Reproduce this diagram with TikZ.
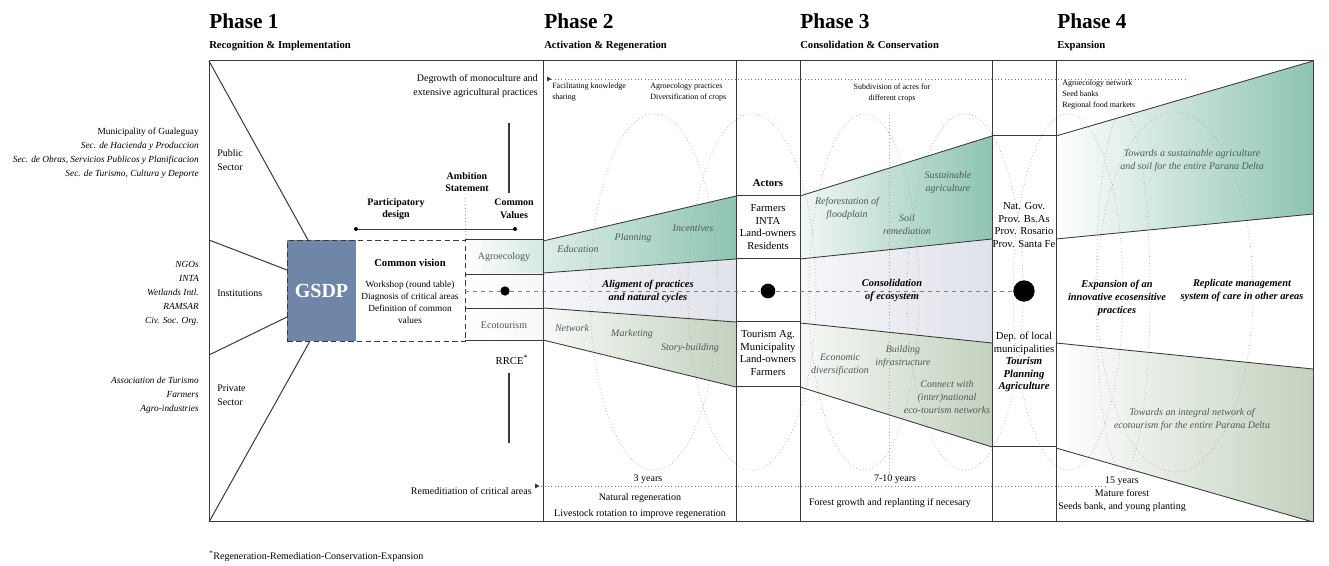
\documentclass[tikz,border=0pt]{standalone}
\usepackage{fontspec}
\setmainfont{Liberation Serif}
\newcommand\myfs[2]{\fontsize{#1}{#2}\selectfont}
\definecolor{frame}{HTML}{3A3A3A}
\definecolor{gsdp}{HTML}{7086A8}
\definecolor{tealD}{HTML}{8DC3B2}
\definecolor{tealL}{HTML}{F2F8F5}
\definecolor{oliveD}{HTML}{C3D1BE}
\definecolor{oliveL}{HTML}{F7F9F6}
\definecolor{lavD}{HTML}{E0E2EA}
\definecolor{lavL}{HTML}{F7F7FA}
\definecolor{bandtxt}{HTML}{4C5A55}
\definecolor{dotc}{HTML}{A6A6A6}
\definecolor{celltxt}{HTML}{555555}
\begin{document}
\begin{tikzpicture}[x=0.75pt,y=-0.75pt,
  ln/.style={draw=frame,line width=0.75pt},
  bedge/.style={draw=frame,line width=0.65pt},
  ell/.style={draw=dotc,dotted,line width=0.5pt},
  ttl/.style={font=\bfseries\myfs{16}{18},anchor=base west,inner sep=0pt},
  sub/.style={font=\bfseries\myfs{8}{9},anchor=base west,inner sep=0pt},
  txt/.style={font=\myfs{7.5}{10},align=center,inner sep=0pt},
  lst/.style={font=\itshape\myfs{7}{10.5},align=right,anchor=east,inner sep=0pt},
  sect/.style={font=\myfs{7.5}{10.5},align=left,anchor=west,inner sep=0pt},
  bld/.style={font=\bfseries\myfs{7.5}{9.5},align=center,inner sep=0pt},
  sml/.style={font=\myfs{6}{8},align=left,anchor=north west,inner sep=0pt},
  band/.style={font=\itshape\myfs{7.5}{9.75},text=bandtxt,align=center,inner sep=0pt},
  mid/.style={font=\bfseries\itshape\myfs{7.8}{9.75},align=center,inner sep=0pt},
  act/.style={font=\myfs{8}{9.4},align=center,inner sep=0pt},
  cell/.style={font=\myfs{7.5}{9},text=celltxt,inner sep=0pt},
  dotend/.style={circle,fill=black,inner sep=0pt,minimum size=3pt}
]
\useasboundingbox (0,0) rectangle (1329,566);
\fill[white] (0,0) rectangle (1329,566);

% ---------- shaded bands ----------
\shade[left color=white,right color=tealL!70!tealD] (465,240) rectangle (543,274);
\shade[left color=white,right color=lavL] (465,274) rectangle (543,308);
\shade[left color=white,right color=oliveL] (465,308) rectangle (543,341);
\shade[left color=tealL!80!tealD,right color=tealD] (543,241) -- (736,196) -- (736,259) -- (543,273) -- cycle;
\shade[left color=lavL,right color=lavD] (543,273) -- (736,259) -- (736,322) -- (543,308) -- cycle;
\shade[left color=oliveL,right color=oliveD] (543,308) -- (736,322) -- (736,387) -- (543,340) -- cycle;
\shade[left color=tealL,right color=tealD] (800,196) -- (992,136) -- (992,239) -- (800,259) -- cycle;
\shade[left color=lavL,right color=lavD] (800,259) -- (992,239) -- (992,343) -- (800,323) -- cycle;
\shade[left color=oliveL,right color=oliveD] (800,323) -- (992,343) -- (992,447) -- (800,387) -- cycle;
\shade[left color=white,right color=tealD] (1056,136) -- (1313,61) -- (1313,214) -- (1056,239) -- cycle;
\shade[left color=white,right color=oliveD] (1056,343) -- (1313,369) -- (1313,522) -- (1056,448) -- cycle;
\fill[gsdp] (287,240) rectangle (356,341);

% ---------- dotted ellipses ----------
\draw[ell] (654,292) ellipse [x radius=64,y radius=178];
\draw[ell] (752,292) ellipse [x radius=64,y radius=178];
\draw[ell] (864,292) ellipse [x radius=55,y radius=178];
\draw[ell] (965,292) ellipse [x radius=58,y radius=178];
\draw[ell] (1068,292) ellipse [x radius=55,y radius=178];
\draw[ell] (1123,292) ellipse [x radius=27,y radius=180];
\draw[ell] (1175,292) ellipse [x radius=78,y radius=180];
\coordinate (dv1) at (889,115); \coordinate (dv2) at (889,472);
\draw[ell] (dv1) -- (dv2);

% ---------- frame & columns ----------
\coordinate (TL) at (209,61); \coordinate (BL) at (209,522);
\coordinate (TR) at (1313,61); \coordinate (BR) at (1313,522);
\draw[ln] (TL) rectangle (BR);
\foreach \x/\n in {543/a,736/b,800/c,992/d,1056/e}{
  \coordinate (v\n t) at (\x,61); \coordinate (v\n b) at (\x,522);
  \draw[ln] (v\n t) -- (v\n b);
}
% actor column boxes
\foreach \y/\n in {196/1,259/2,322/3,387/4}{
  \coordinate (ha\n) at (736,\y); \coordinate (hb\n) at (800,\y);
  \draw[ln] (ha\n) -- (hb\n);
}
\foreach \y/\n in {136/1,447/2}{
  \coordinate (hc\n) at (992,\y); \coordinate (hd\n) at (1056,\y);
  \draw[ln] (hc\n) -- (hd\n);
}

% ---------- band edges ----------
\draw[bedge] (543,241) -- (736,196);
\draw[bedge] (543,273) -- (736,259);
\draw[bedge] (543,308) -- (736,322);
\draw[bedge] (543,340) -- (736,387);
\draw[bedge] (800,196) -- (992,136);
\draw[bedge] (800,259) -- (992,239);
\draw[bedge] (800,323) -- (992,343);
\draw[bedge] (800,387) -- (992,447);
\draw[bedge] (1056,136) -- (1313,61);
\draw[bedge] (1056,239) -- (1313,214);
\draw[bedge] (1056,343) -- (1313,369);
\draw[bedge] (1056,448) -- (1313,522);
% Phase-1 cells
\draw[ln] (465,240) -- (543,240);
\draw[ln,line width=0.5pt] (465,274) -- (543,274);
\draw[ln,line width=0.5pt] (465,308) -- (543,308);
\draw[ln] (465,341) -- (543,341);

% ---------- Phase 1 ----------
\node[draw=frame,dashed,line width=0.9pt,dash pattern=on 4pt off 2.5pt,minimum width=178*0.75pt,minimum height=101*0.75pt,inner sep=0pt,anchor=north west] (vision) at (287,240) {};
\node[font=\bfseries\myfs{15}{16},text=white,inner sep=0pt] (gsdp) at (321.5,291) {GSDP};
\coordinate (g1) at (308,240); \coordinate (g2) at (287,270);
\coordinate (g3) at (287,317); \coordinate (g4) at (310,341);
\coordinate (l2) at (209,240); \coordinate (l3) at (209,355);
\draw[ln] (TL) -- (g1);
\draw[ln] (l2) -- (g2);
\draw[ln] (l3) -- (g3);
\draw[ln] (BL) -- (g4);

\node[lst] (muni) at (199,153) {\upshape Municipality of Gualeguay\\Sec. de Hacienda y Produccion\\Sec. de Obras, Servicios Publicos y Planificacion\\Sec. de Turismo, Cultura y Deporte};
\node[sect] (pub) at (217,160) {Public\\Sector};
\node[lst] (ngo) at (199,293) {NGOs\\INTA\\Wetlands Intl.\\RAMSAR\\Civ. Soc. Org.};
\node[sect] (inst) at (217,293) {Institutions};
\node[lst] (priv) at (199,395) {Association de Turismo\\Farmers\\Agro-industries};
\node[sect] (privs) at (217,395) {Private\\Sector};

\node[font=\bfseries\myfs{8}{10},inner sep=0pt] (cv) at (410,263) {Common vision};
\node[txt,font=\myfs{7}{9}] (ws) at (410,302) {Workshop (round table)\\Diagnosis of critical areas\\Definition of common\\values};
\node[bld] (pd) at (396,209) {Participatory\\design};
\node[bld] (as) at (467,182) {Ambition\\Statement};
\node[bld] (cval) at (514,209) {Common\\Values};
\node[dotend] (pd1) at (356,229) {};
\node[dotend] (pd2) at (515,229) {};
\draw[ln,line width=0.6pt] (pd1) -- (pd2);
\coordinate (as1) at (465,198);
\draw[draw=frame,dotted,line width=0.5pt] (as1) -- (vision.north east);
\coordinate (sv1) at (509,123); \coordinate (sv2) at (509,193);
\coordinate (sv3) at (509,373); \coordinate (sv4) at (509,443);
\draw[ln,line width=0.9pt] (sv1) -- (sv2);
\draw[ln,line width=0.9pt] (sv3) -- (sv4);
\node[txt,font=\myfs{8}{10}] (rrce) at (512,360) {RRCE\textsuperscript{*}};
\node[cell] (agro) at (504,257) {Agroecology};
\node[cell] (eco) at (504,325) {Ecotourism};

\node[txt,align=right,anchor=east,font=\myfs{7.5}{10.5}] (degr) at (538,86) {Degrowth of monoculture and\\extensive agricultural practices};
\node[txt,anchor=east,font=\myfs{7.5}{10}] (rem) at (532,491) {Remeditiation of critical areas};

% ---------- dotted timelines ----------
\coordinate (tl1) at (548,79); \coordinate (tl2) at (1187,79);
\draw[ell,draw=frame!70] (tl1) -- (tl2);
\fill[frame] (547,76.5) -- (551.5,79) -- (547,81.5) -- cycle;
\coordinate (bl1) at (538,486); \coordinate (bl2) at (1105,486);
\draw[ell,draw=frame!70] (bl1) -- (bl2);
\fill[frame] (535,483.5) -- (539.5,486) -- (535,488.5) -- cycle;

% ---------- middle axis ----------
\node[circle,fill=black,inner sep=0pt,minimum size=7pt] (d1) at (505,291) {};
\node[circle,fill=black,inner sep=0pt,minimum size=11pt] (d2) at (768,291) {};
\node[circle,fill=black,inner sep=0pt,minimum size=16pt] (d3) at (1024,291) {};
\coordinate (ax0) at (465,291);
\draw[draw=gray,dashed,line width=0.6pt,dash pattern=on 3pt off 3pt] (ax0) -- (d1) -- (d2) -- (d3);

% ---------- Phase 2 ----------
\node[sml] (fk) at (552,83) {Facilitating knowledge\\sharing};
\node[sml] (ap) at (650,83) {Agroecology practices\\Diversification of crops};
\node[band] (edu) at (578,249) {Education};
\node[band] (pla) at (633,238) {Planning};
\node[band] (inc) at (693,228) {Incentives};
\node[mid] (alig) at (648,291) {Aligment of practices\\and natural cycles};
\node[band] (net) at (572,328) {Network};
\node[band] (mkt) at (632,334) {Marketing};
\node[band] (sto) at (690,348) {Story-building};
\node[txt] (y3) at (648,479) {3 years};
\node[txt,font=\myfs{7.5}{12}] (natr) at (640,506) {Natural regeneration\\Livestock rotation to improve regeneration};

\node[font=\bfseries\myfs{8}{10},inner sep=0pt] (actors) at (768,183) {Actors};
\node[act] (act1) at (768,227) {Farmers\\INTA\\Land-owners\\Residents};
\node[act] (act2) at (768,353) {Tourism Ag.\\Municipality\\Land-owners\\Farmers};

% ---------- Phase 3 ----------
\node[sml,align=center,anchor=center] (sub3) at (892,93) {Subdivision of acres for\\different crops};
\node[band] (ref) at (847,209) {Reforestation of\\floodplain};
\node[band] (soil) at (907,225) {Soil\\remediation};
\node[band] (sus) at (948,183) {Sustainable\\agriculture};
\node[mid] (cons) at (892,291) {Consolidation\\of ecosystem};
\node[band] (econ) at (840,365) {Economic\\diversification};
\node[band] (bld) at (903,357) {Building\\infrastructure};
\node[band] (conn) at (947,397) {Connect with\\(inter)national\\eco-tourism networks};
\node[txt] (y710) at (895,479) {7-10 years};
\node[txt] (fg) at (890,503) {Forest growth and replanting if necesary};
\node[act] (gov) at (1024,225) {Nat. Gov.\\Prov. Bs.As\\Prov. Rosario\\Prov. Santa Fe};
\node[act] (dep) at (1024,362) {Dep. of local\\municipalities\\\textbf{\textit{Tourism}}\\\textbf{\textit{Planning}}\\\textbf{\textit{Agriculture}}};

% ---------- Phase 4 ----------
\node[sml] (agn) at (1062,80) {Agroecology network\\Seed banks\\Regional food markets};
\node[band] (tw1) at (1192,161) {Towards a sustainable agriculture\\and soil for the entire Parana Delta};
\node[mid] (exp) at (1117,298) {Expansion of an\\innovative ecosensitive\\practices};
\node[mid] (rep) at (1242,291) {Replicate management\\system of care in other areas};
\node[band] (tw2) at (1192,420) {Towards an integral network of\\ecotourism for the entire Parana Delta};
\node[txt,font=\myfs{7.5}{9.75}] (y15) at (1122,494) {15 years\\Mature forest\\Seeds bank, and young planting};

% ---------- headers ----------
\node[ttl] (p1) at (209,29) {Phase 1};
\node[sub] (s1) at (209,49) {Recognition \& Implementation};
\node[ttl] (p2) at (544,29) {Phase 2};
\node[sub] (s2) at (544,49) {Activation \& Regeneration};
\node[ttl] (p3) at (800,29) {Phase 3};
\node[sub] (s3) at (800,49) {Consolidation \& Conservation};
\node[ttl] (p4) at (1057,29) {Phase 4};
\node[sub] (s4) at (1057,49) {Expansion};

\node[font=\myfs{7.5}{9},anchor=base west,inner sep=0pt] (foot) at (209,560) {\textsuperscript{*}Regeneration-Remediation-Conservation-Expansion};
\end{tikzpicture}
\end{document}
